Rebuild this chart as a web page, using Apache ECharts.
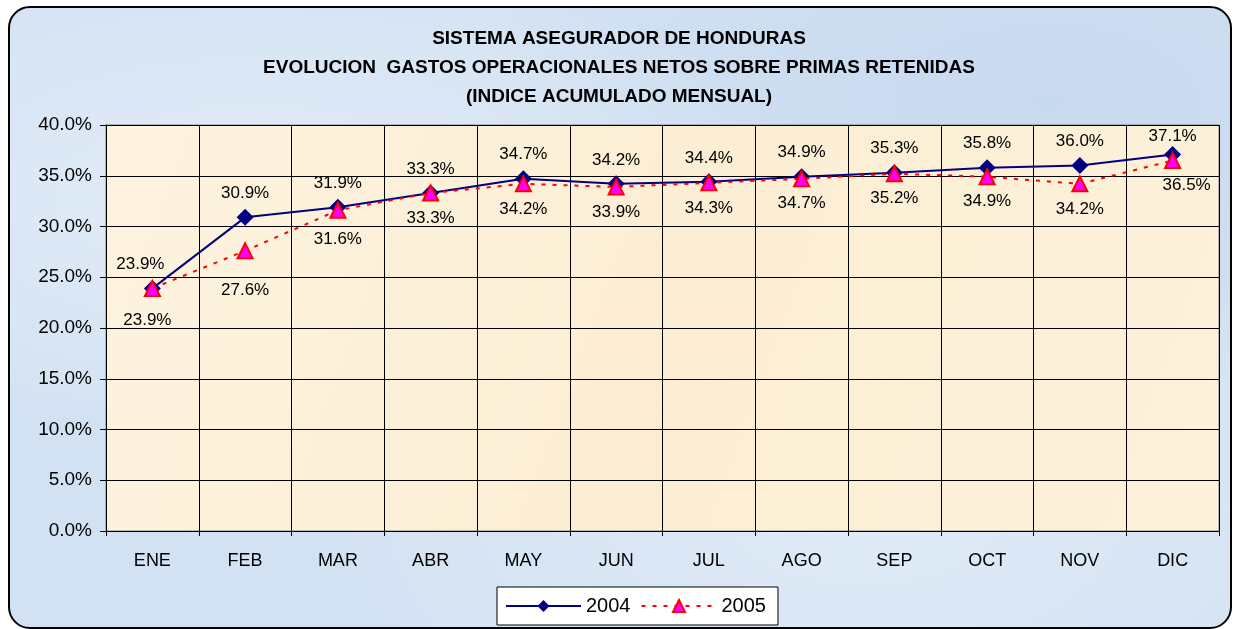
<!DOCTYPE html>
<html>
<head>
<meta charset="utf-8">
<script src="https://cdn.jsdelivr.net/npm/echarts@6/dist/echarts.min.js"></script>
<style>
  html, body { margin: 0; padding: 0; background: #ffffff; }
  #frame {
    position: absolute; left: 8px; top: 6px; width: 1220px; height: 619px;
    border: 2px solid #000; border-radius: 22px; overflow: hidden;
    background:
      radial-gradient(ellipse at 20% 30%, rgba(255,255,255,0.35), rgba(255,255,255,0) 40%),
      radial-gradient(ellipse at 70% 80%, rgba(255,255,255,0.3), rgba(255,255,255,0) 45%),
      radial-gradient(ellipse at 85% 15%, rgba(190,210,235,0.5), rgba(190,210,235,0) 40%),
      #d3e2f3;
  }
  #chart { position: absolute; left: 0; top: 0; width: 1238px; height: 629px; }
</style>
</head>
<body>
<div id="frame"></div>
<div id="chart"></div>
<script>
// 月份
const months = ['ENE', 'FEB', 'MAR', 'ABR', 'MAY', 'JUN', 'JUL', 'AGO', 'SEP', 'OCT', 'NOV', 'DIC'];
// 各年份指数 (%)
const data2004 = [23.9, 30.9, 31.9, 33.3, 34.7, 34.2, 34.4, 34.9, 35.3, 35.8, 36.0, 37.1];
const data2005 = [23.9, 27.6, 31.6, 33.3, 34.2, 33.9, 34.3, 34.7, 35.2, 34.9, 34.2, 36.5];
const titleLines = [
    'SISTEMA ASEGURADOR DE HONDURAS',
    'EVOLUCION  GASTOS OPERACIONALES NETOS SOBRE PRIMAS RETENIDAS',
    '(INDICE ACUMULADO MENSUAL)'
];

const font = 'Liberation Sans, Arial, sans-serif';

function pct(v) {
    return v.toFixed(1) + '%';
}

const chart = echarts.init(document.getElementById('chart'));

chart.setOption({
    animation: false,
    textStyle: { fontFamily: font },
    title: {
        text: titleLines.join('\n'),
        left: 'center',
        top: 19,
        textStyle: { fontFamily: font, fontSize: 19, fontWeight: 'bold', color: '#000', lineHeight: 29 }
    },
    legend: {
        data: ['2004', '2005'],
        left: 497,
        top: 587,
        itemWidth: 75,
        itemHeight: 15,
        itemGap: 10,
        padding: [9, 12, 9, 8],
        backgroundColor: '#ffffff',
        borderColor: '#000',
        borderWidth: 1,
        textStyle: { fontFamily: font, fontSize: 20, color: '#000' }
    },
    grid: {
        left: 106,
        right: 19,
        top: 125,
        bottom: 98,
        show: true,
        backgroundColor: {
            type: 'linear', x: 0, y: 0, x2: 1, y2: 1,
            colorStops: [
                { offset: 0, color: '#fdf3df' },
                { offset: 0.5, color: '#fbeed4' },
                { offset: 1, color: '#fdf1da' }
            ]
        },
        borderColor: '#808080',
        borderWidth: 1
    },
    xAxis: {
        type: 'category',
        data: months,
        boundaryGap: true,
        axisLine: { lineStyle: { color: '#000', width: 1 } },
        axisTick: { show: true, length: 5, lineStyle: { color: '#000' } },
        splitLine: { show: true, lineStyle: { color: '#000', width: 1 } },
        axisLabel: { color: '#000', fontSize: 18, margin: 21, fontFamily: font }
    },
    yAxis: {
        type: 'value',
        min: 0,
        max: 40,
        interval: 5,
        axisLine: { show: true, lineStyle: { color: '#000', width: 1 } },
        axisTick: { show: true, length: 6, lineStyle: { color: '#000' } },
        splitLine: { show: true, lineStyle: { color: '#000', width: 1 } },
        axisLabel: { color: '#000', fontSize: 19, margin: 14, fontFamily: font, formatter: pct }
    },
    series: [
        {
            name: '2004',
            type: 'line',
            data: data2004.map((v, i) => {
                let lbl;
                if (i === 0) lbl = { offset: [-12, 0] };
                else if (i === 11) lbl = { offset: [0, 6] };
                return { value: v, label: lbl };
            }),
            symbol: 'diamond',
            symbolSize: 17,
            itemStyle: { color: '#000080' },
            lineStyle: { color: '#000080', width: 2 },
            label: {
                show: true,
                position: 'top',
                distance: 7,
                fontSize: 17,
                color: '#000',
                fontFamily: font,
                formatter: p => pct(p.value)
            },
            z: 3
        },
        {
            name: '2005',
            type: 'line',
            data: data2005.map((v, i) => {
                let lbl;
                if (i === 0) lbl = { offset: [-5, 7] };
                else if (i === 1) lbl = { offset: [0, 14] };
                else if (i === 2) lbl = { offset: [0, 4] };
                else if (i === 11) lbl = { offset: [14, 0] };
                return { value: v, label: lbl };
            }),
            symbol: 'triangle',
            symbolSize: 15,
            itemStyle: { color: '#ff00ff', borderColor: '#ff0000', borderWidth: 2 },
            lineStyle: { color: '#ff0000', width: 2, type: [4, 7] },
            label: {
                show: true,
                position: 'bottom',
                distance: 8,
                fontSize: 17,
                color: '#000',
                fontFamily: font,
                formatter: p => pct(p.value)
            },
            z: 4
        }
    ]
});
</script>
</body>
</html>
